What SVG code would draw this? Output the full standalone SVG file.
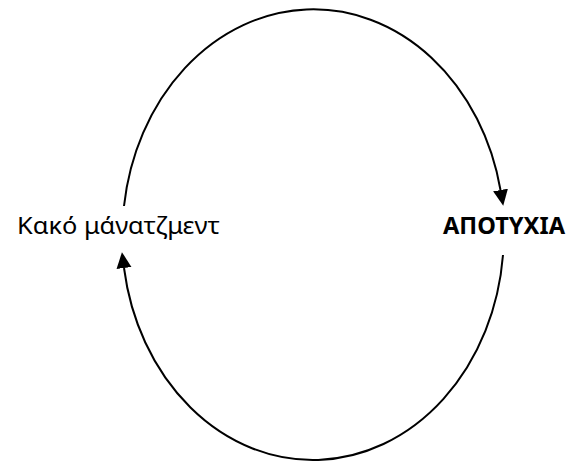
<svg xmlns="http://www.w3.org/2000/svg" width="571" height="466" viewBox="0 0 571 466">
<style>
.c{fill:none;stroke:#000;stroke-width:2}
.t{font-family:"Noto Sans","Open Sans",sans-serif;font-size:24px;fill:#000}
.b{font-weight:bold}
</style>
<defs>
<marker id="ah" markerUnits="userSpaceOnUse" markerWidth="16" markerHeight="16" refX="0" refY="7.5" orient="auto" viewBox="0 0 16 15">
<path d="M0,0 L16,7.5 L0,15 z" fill="#000"/>
</marker>
</defs>
<rect width="571" height="466" fill="#fff"/>
<g id="connectors">
<path class="c" d="M124,206 A191,226 0 0 1 500.5,190" marker-end="url(#ah)"/>
<path class="c" d="M503,255 A191,226 0 0 1 124,268" marker-end="url(#ah)"/>
</g>
<g id="node-bad-management">
<text class="t" x="17" y="234" textLength="203" lengthAdjust="spacingAndGlyphs">Κακό μάνατζμεντ</text>
</g>
<g id="node-failure">
<text class="t b" x="443" y="234" textLength="122" lengthAdjust="spacingAndGlyphs">ΑΠΟΤΥΧΙΑ</text>
</g>
</svg>
